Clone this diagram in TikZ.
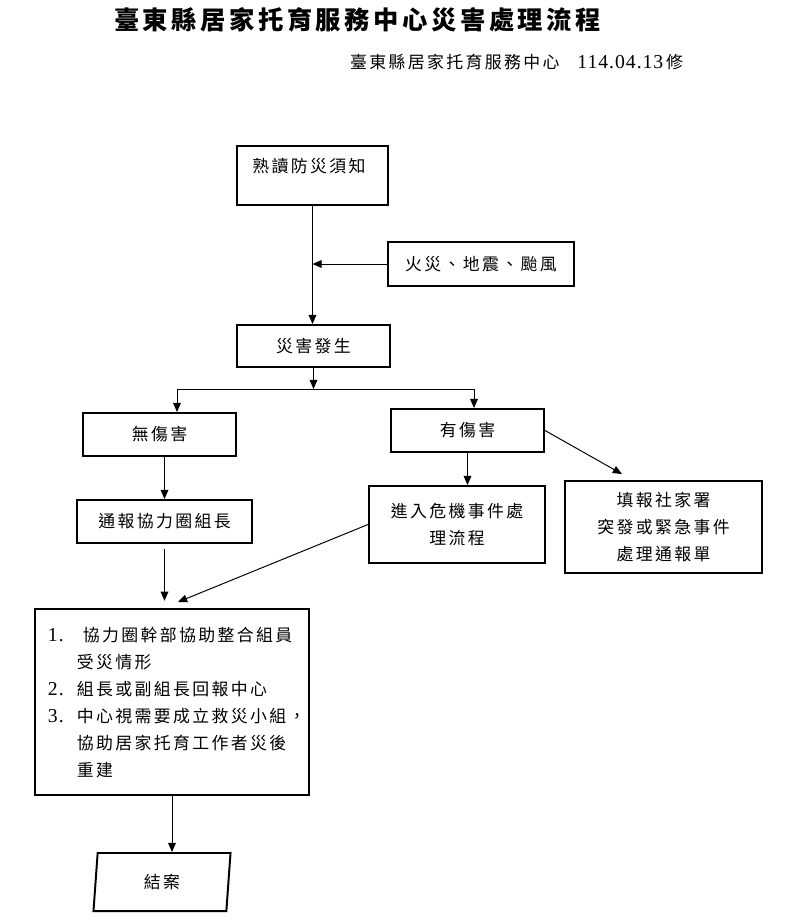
\documentclass[tikz,border=0pt]{standalone}
\usepackage{fontspec}
\setmainfont{Noto Sans CJK TC}[LetterSpace=14]
\newfontfamily\latinrm{Liberation Serif}[LetterSpace=5]
\usetikzlibrary{arrows.meta,shapes.geometric}
\tikzstyle{stepbox} = [rectangle, draw=black, line width=1.4pt, inner sep=0pt, align=center, font=\fontsize{12pt}{19.2pt}\selectfont]
\tikzstyle{endbox} = [trapezium, trapezium left angle=75, trapezium right angle=105, trapezium stretches body, draw=black, line width=1.4pt, inner sep=0pt, font=\fontsize{12pt}{19.2pt}\selectfont]
\tikzstyle{flow} = [line width=0.7pt, -{Triangle[width=5.5pt,length=6.5pt]}]
\newcommand{\num}[1]{\makebox[0.725cm][l]{\latinrm\fontsize{14pt}{19.2pt}\selectfont #1}}
\newcommand{\hang}{\hspace*{0.725cm}}

\begin{document}
\begin{tikzpicture}[x=0.025cm, y=-0.025cm]
	\useasboundingbox (0,0) rectangle (793,920);
	% heading
	\node (title) at (357.5,20) {\fontsize{18pt}{22pt}\selectfont\bfseries 臺東縣居家托育服務中心災害處理流程};
	\node (stamp) [anchor=east] at (688,62) {\fontsize{12pt}{14pt}\selectfont 臺東縣居家托育服務中心\hspace{0.45cm}{\latinrm\fontsize{14pt}{14pt}\selectfont 114.04.13}\,修};
	% boxes
	\node [stepbox, text width=3.0cm, align=left, text height=0.66cm, text depth=0.815cm, minimum width=3.775cm] (read) at (312.5,175.5) {熟讀防災須知};
	\node [stepbox, minimum width=4.65cm, minimum height=1.1cm] (hazard) at (481,264) {火災、地震、颱風};
	\node [stepbox, minimum width=3.825cm, minimum height=1.05cm] (hit) at (313.5,346) {災害發生};
	\node [stepbox, minimum width=3.825cm, minimum height=1.075cm] (nohurt) at (159.5,434.5) {無傷害};
	\node [stepbox, minimum width=3.825cm, minimum height=1.075cm] (hurt) at (467.5,430.5) {有傷害};
	\node [stepbox, minimum width=4.375cm, minimum height=1.075cm] (notify) at (164.5,521.5) {通報協力圈組長};
	\node [stepbox, minimum width=4.4cm, minimum height=1.925cm] (crisis) at (457,524.5) {進入危機事件處\\理流程};
	\node [stepbox, minimum width=4.925cm, minimum height=2.3cm] (report) at (663.5,527) {填報社家署\\突發或緊急事件\\處理通報單};
	\node [stepbox, text width=6.2cm, align=left, minimum width=6.85cm, minimum height=4.65cm] (tasks) at (172,702) {\num{1.}\hspace{0.15cm}協力圈幹部協助整合組員\\
		\hang 受災情形\\
		\num{2.}組長或副組長回報中心\\
		\num{3.}中心視需要成立救災小組，\\
		\hang 協助居家托育工作者災後\\
		\hang 重建};
	\node [endbox, minimum width=3.425cm, minimum height=1.45cm] (close) at (162,882) {結案};
	% connectors
	\coordinate (fork) at (313,389);
	\coordinate (forkL) at (177,389);
	\coordinate (forkR) at (474,389);
	\coordinate (reportin) at (622,474);
	\coordinate (tasksin) at (178,602);
	\draw [flow] (read.south) -- (read.south |- hit.north);
	\draw [flow] (hazard.west) -- (hazard.west -| read.south);
	\draw [flow] (hit.south) -- (hit.south |- fork);
	\draw [line width=0.7pt] (forkL) -- (forkR);
	\draw [flow] (forkL) -- (forkL |- nohurt.north);
	\draw [flow] (forkR) -- (forkR |- hurt.north);
	\draw [flow] (notify.north |- nohurt.south) -- (notify.north);
	\draw [flow] (hurt.south) -- (hurt.south |- crisis.north);
	\draw [flow] (hurt.east) -- (reportin);
	\draw [flow, shorten <=0.12cm, shorten >=0.18cm] (notify.south) -- (notify.south |- tasks.north);
	\draw [flow] (crisis.west) -- (tasksin);
	\draw [flow] (tasks.south) -- (tasks.south |- close.north);
\end{tikzpicture}
\end{document}
